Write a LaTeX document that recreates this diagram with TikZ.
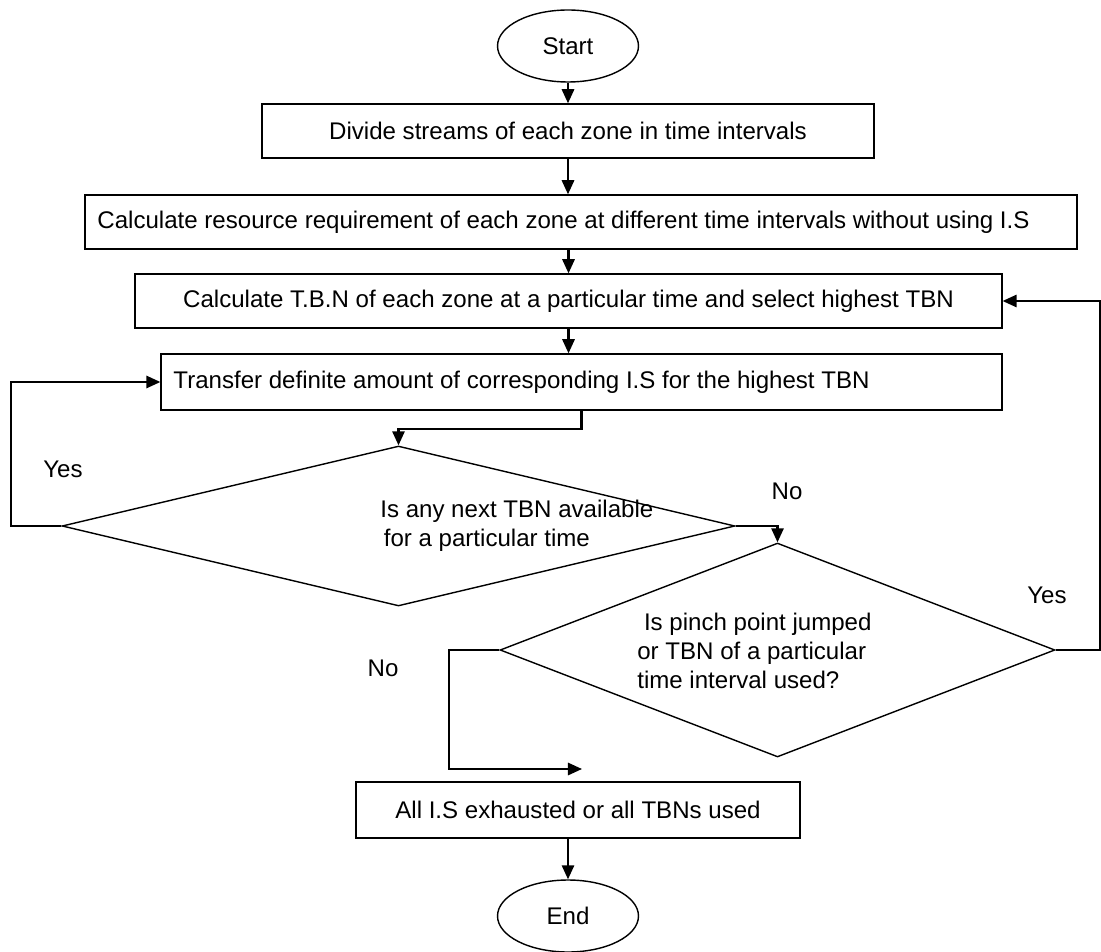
\documentclass[tikz,border=0pt]{standalone}
\usepackage{fontspec}
\setmainfont{Liberation Sans}
\usepackage{tikz}
\usetikzlibrary{arrows.meta, positioning, calc, shapes.geometric}

\begin{document}
\begin{tikzpicture}[
  x=0.02cm, y=-0.02cm,
  font=\fontsize{13.7}{16.4}\selectfont,
  terminal/.style={ellipse,draw,line width=0.8pt,minimum width=2.82cm,minimum height=1.44cm},
  process/.style={rectangle,draw,line width=0.8pt,inner sep=2pt},
  decision/.style={diamond,draw,line width=0.8pt,inner sep=0pt},
  question/.style={anchor=west,inner sep=0pt,align=left},
  flow/.style={->,line width=1.2pt},
  >={Triangle[length=8pt,width=7pt]}
]
  \useasboundingbox (0,0) rectangle (1101,952);

  % Main column
  \node[terminal] (start) at (568,46) {Start};
  \node[process,minimum width=12.24cm,minimum height=1.08cm] (b1) at (568,131)
    {Divide streams of each zone in time intervals};
  \node[process,minimum width=19.84cm,minimum height=1.08cm] (b2) at (581,222)
    {\hspace*{-0.7cm}Calculate resource requirement of each zone at different time intervals without using I.S};
  \node[process,minimum width=17.34cm,minimum height=1.08cm] (b3) at (568.5,301)
    {Calculate T.B.N of each zone at a particular time and select highest TBN};
  \node[process,minimum width=16.82cm,minimum height=1.12cm] (b4) at (581.5,382)
    {\hspace*{-2.4cm}Transfer definite amount of corresponding I.S for the highest TBN};

  % Decisions
  \node[decision,minimum width=13.46cm,minimum height=3.2cm] (d1) at (398.5,526) {};
  \node[question] (q1) at (380,526) {Is any next TBN available\\\hspace*{2pt}for a particular time};
  \node[decision,minimum width=11.1cm,minimum height=4.28cm] (d2) at (777.5,650) {};
  \node[question] (q2) at (637,651) {\ Is pinch point jumped\\or TBN of a particular\\time interval used?};

  \node[process,minimum width=8.88cm,minimum height=1.12cm] (b5) at (578,810)
    {All I.S exhausted or all TBNs used};
  \node[terminal] (end) at (568,916) {End};

  % Branch labels
  \node (yes1) at (63,469) {Yes};
  \node (no1) at (787,491) {No};
  \node (no2) at (383,668) {No};
  \node (yes2) at (1047,595) {Yes};

  \coordinate (c5) at (582,769);

  % Connectors
  \draw[flow] (start.south) -- (start |- b1.north);
  \draw[flow] (b1.south) -- (b1 |- b2.north);
  \draw[flow] (b3 |- b2.south) -- (b3.north);
  \draw[flow] (b3.south) -- (b3.south |- b4.north);
  \draw[flow] (b4.south) -- ++(0,18) -| (d1.north);
  \draw[flow] (d1.west) -- ++(-50,0) |- (b4.west);
  \draw[flow] (d1.east) -| (d2.north);
  \draw[flow] (d2.west) -- ++(-50,0) |- (c5);
  \draw[flow] (d2.east) -- ++(44,0) |- (b3.east);
  \draw[flow] (end |- b5.south) -- (end.north);
\end{tikzpicture}
\end{document}
